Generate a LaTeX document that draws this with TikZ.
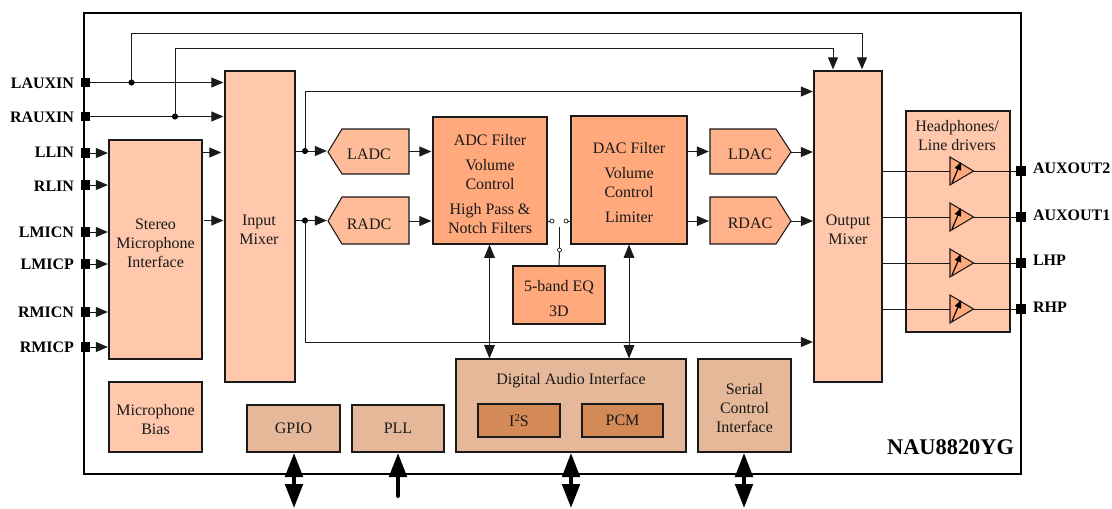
\documentclass[tikz,border=0pt]{standalone}
\usepackage{fontspec}
\setmainfont{Liberation Serif}
\usetikzlibrary{arrows.meta}
\definecolor{cLight}{HTML}{FFC8AD}
\definecolor{cMid}{HTML}{FFBC98}
\definecolor{cDark}{HTML}{FFA97D}
\definecolor{cTan}{HTML}{E5B89A}
\definecolor{cBrown}{HTML}{D48A57}
\definecolor{cLine}{HTML}{1A1A1A}
\newcommand{\bx}[7]{%
  \pgfmathsetmacro{\bw}{(#4-#2)*0.75}\pgfmathsetmacro{\bh}{(#5-#3)*0.75}%
  \node[#6,minimum width=\bw pt,minimum height=\bh pt] (#1) at ({(#2+#4)/2},{(#3+#5)/2}) {\raisebox{-0.7pt}{#7}};}
\tikzset{
  x=0.75pt,y=-0.75pt,
  every node/.style={font=\fontsize{12}{14.25}\selectfont,text=black!90,inner sep=0pt,outer sep=0pt},
  blk/.style={draw=cLine,line width=0.8pt,rectangle,align=center},
  lightb/.style={blk,fill=cLight},
  darkb/.style={blk,fill=cDark},
  tanb/.style={blk,fill=cTan},
  brownb/.style={blk,fill=cBrown},
  txt/.style={align=center,yshift=-0.6pt},
  pin/.style={rectangle,fill=black,minimum size=6.8pt},
  pinlab/.style={font=\fontsize{12}{14}\selectfont\bfseries,text=black,yshift=-0.5pt},
  wire/.style={draw=cLine,line width=0.75pt},
  arr/.style={wire,-{Triangle[length=9pt,width=7.5pt]},shorten >=0.5pt},
  biarr/.style={wire,{Triangle[length=10pt,width=8pt]}-{Triangle[length=10pt,width=8pt]}},
  dot/.style={circle,fill=black,minimum size=4.6pt},
  sw/.style={circle,draw=cLine,fill=white,line width=0.5pt,minimum size=3pt},
  bigarr/.style={draw=black,line width=3pt,{Triangle[length=18pt,width=13pt]}-{Triangle[length=18pt,width=13pt]}},
  bigone/.style={draw=black,line width=3pt,line cap=round,-{Triangle[length=18pt,width=13pt]}},
  poly/.style={draw=cLine,line width=0.8pt,fill=cMid},
  drv/.style={draw=cLine,line width=0.8pt,fill=cDark},
}
\begin{document}
\begin{tikzpicture}
\useasboundingbox (0,0) rectangle (1112,508);
\fill[white] (0,0) rectangle (1112,508);
\bx{chip}{84}{13}{1021}{474}{draw=black,line width=1.3pt}{}
\node[font=\fontsize{16.8}{18}\selectfont\bfseries,text=black,anchor=east] (partno) at (1014,447) {NAU8820YG};

% blocks
\bx{stereo}{109}{140}{202}{359}{lightb}{}
\node[txt] (stereot) at (155.5,242) {Stereo\\Microphone\\Interface};
\bx{inmix}{225}{71}{295}{382}{lightb}{}
\node[txt] (inmixt) at (259,229) {Input\\Mixer};
\bx{micbias}{109}{382}{202}{452}{lightb}{}
\node[txt] (micbiast) at (155.5,419) {Microphone\\Bias};
\bx{gpio}{247}{405}{340}{452}{tanb}{GPIO}
\bx{pll}{352}{405}{444}{452}{tanb}{PLL}
\bx{dai}{456}{359}{686}{452}{tanb}{}
\node (dait) at (571,381) {Digital Audio Interface};
\bx{iis}{478}{404}{560}{437}{brownb}{I\raisebox{3.6pt}{\fontsize{8}{9}\selectfont 2}S}
\bx{pcm}{582}{404}{663}{437}{brownb}{PCM}
\bx{serial}{698}{359}{791}{452}{tanb}{}
\node[txt] (serialt) at (744.5,407) {Serial\\Control\\Interface};
\bx{adc}{433}{117}{547}{244}{darkb}{}
\node[txt] (adct) at (490,183) {ADC Filter\\[4.5pt]Volume\\Control\\[4.5pt]High Pass \&\\Notch Filters};
\bx{dac}{571}{116}{687}{244}{darkb}{}
\node[txt] (dact) at (629,182) {DAC Filter\\[4.5pt]Volume\\Control\\[4.5pt]Limiter};
\bx{eq}{513}{266}{605}{324}{darkb}{}
\node[txt] (eqt) at (559,298) {5-band EQ\\[4.5pt]3D};
\bx{outmix}{814}{71}{882}{382}{lightb}{}
\node[txt] (outmixt) at (848,229) {Output\\Mixer};
\bx{drivers}{906}{111}{1010}{332}{lightb}{}
\node[txt] (driverst) at (957,135) {Headphones/\\Line drivers};

% converters
\draw[poly] (328,152) -- (342,129) -- (409,129) -- (409,174) -- (342,174) -- cycle;
\node (ladc) at (369,154) {LADC};
\draw[poly] (328,221) -- (342,197) -- (409,197) -- (409,244) -- (342,244) -- cycle;
\node (radc) at (369,224) {RADC};
\draw[poly,fill=cDark!90!white] (710,129) -- (776,129) -- (791,152) -- (776,174) -- (710,174) -- cycle;
\node (ldac) at (750,154) {LDAC};
\draw[poly,fill=cDark!90!white] (710,197) -- (776,197) -- (791,221) -- (776,244) -- (710,244) -- cycle;
\node (rdac) at (750,223) {RDAC};

% pins
\foreach \n/\t/\y/\ly in {lauxin/LAUXIN/82.5/83,rauxin/RAUXIN/116.5/117,llin/LLIN/153/152,rlin/RLIN/185/186,lmicn/LMICN/232/232,lmicp/LMICP/264/264,rmicn/RMICN/312/312,rmicp/RMICP/347/347}{
  \node[pin] (\n) at (85.5,\y) {};
  \node[pinlab,anchor=east] (\n t) at (74,\ly) {\t};
}
\foreach \n/\t/\y/\ly in {aout2/AUXOUT2/171/168,aout1/AUXOUT1/217/215,lhp/LHP/263/260,rhp/RHP/309/307}{
  \node[pin] (\n) at (1021,\y) {};
  \node[pinlab,anchor=west] (\n t) at (1033,\ly) {\t};
}

% left wires
\coordinate (imA) at (224,82.5);
\coordinate (imB) at (224,116.5);
\draw[arr] (lauxin) -- (imA);
\draw[arr] (rauxin) -- (imB);
\node[dot] (dotA) at (131.5,82.5) {};
\node[dot] (dotB) at (175,116.5) {};
\foreach \n/\y in {llin/153,rlin/185,lmicn/232,lmicp/264,rmicn/312,rmicp/347}{
  \coordinate (\n e) at (108.5,\y);
  \draw[arr] (\n) -- (\n e);
}
\coordinate (stA) at (202,152.5);
\coordinate (imC) at (222,152.5);
\draw[arr] (stA) -- (imC);
\coordinate (stB) at (204,220.5);
\coordinate (imD) at (224,220.5);
\draw[arr] (stB) -- (imD);

% bypass wires over the top
\coordinate (omA) at (833,70);
\coordinate (omB) at (862,70);
\draw[arr] (dotA.center) |- (862,33.5) -- (omB);
\draw[arr] (dotB.center) |- (833,48) -- (omA);

% input mixer to ADCs
\coordinate (imE) at (295,151);
\coordinate (imF) at (295,220.5);
\coordinate (ladcW) at (327.5,151);
\coordinate (radcW) at (327.5,220.5);
\draw[arr] (imE) -- (ladcW);
\draw[arr] (imF) -- (radcW);
\node[dot] (dotC) at (305,151) {};
\node[dot] (dotD) at (305,220.5) {};
\coordinate (omC) at (813.5,91.5);
\coordinate (omD) at (813.5,342);
\draw[arr] (dotC.center) |- (omC);
\draw[arr] (dotD.center) |- (omD);

% ADC / DAC
\coordinate (ladcE) at (409,151.5);
\coordinate (adcA) at (432,151.5);
\coordinate (radcE) at (409,221);
\coordinate (adcB) at (432,221);
\draw[arr] (ladcE) -- (adcA);
\draw[arr] (radcE) -- (adcB);
\coordinate (dacA) at (687,151.5);
\coordinate (ldacW) at (709.5,151.5);
\coordinate (dacB) at (687,221);
\coordinate (rdacW) at (709.5,221);
\draw[arr] (dacA) -- (ldacW);
\draw[arr] (dacB) -- (rdacW);
\coordinate (ldacE) at (791,152);
\coordinate (omE) at (813.5,152);
\coordinate (rdacE) at (791,221);
\coordinate (omF) at (813.5,221);
\draw[arr] (ldacE) -- (omE);
\draw[arr] (rdacE) -- (omF);

% switch
\node[sw] (swA) at (552,221) {};
\node[sw] (swB) at (566,221) {};
\node[sw] (swC) at (559.5,250) {};
\coordinate (swT) at (559.5,227);
\draw[wire] (eq.north) -- (swC);
\draw[wire] (swC) -- (swT);
\draw[wire] (adc.east |- swA) -- (swA);
\draw[wire] (swB) -- (dac.west |- swB);

% bus arrows
\coordinate (adcS) at (489.5,244.5);
\coordinate (daiA) at (489.5,358.5);
\coordinate (dacS) at (629,244.5);
\coordinate (daiB) at (629,358.5);
\draw[biarr] (adcS) -- (daiA);
\draw[biarr] (dacS) -- (daiB);

% output drivers
\foreach \n/\y in {aout2/171,aout1/217,lhp/263,rhp/309}{
  \coordinate (om\n) at (882,\y);
  \coordinate (tri\n) at (950,\y);
  \draw[wire] (om\n) -- (tri\n);
  \coordinate (tro\n) at (973,\y);
  \draw[wire] (tro\n) -- (\n);
  \draw[drv] (950,\y-14) -- (973.5,\y) -- (950,\y+14) -- cycle;
  \coordinate (aa\n) at (952,\y+12);
  \coordinate (ab\n) at (961,\y-9);
  \draw[line width=0.9pt,black,-{Triangle[length=6pt,width=5pt]}] (aa\n) -- (ab\n);
}

% external thick arrows
\coordinate (gpioN) at (294,453);
\coordinate (gpioS) at (294,508);
\coordinate (pllN) at (398,453);
\coordinate (pllS) at (398,496);
\coordinate (daiN) at (571,453);
\coordinate (daiS) at (571,508);
\coordinate (serN) at (744,453);
\coordinate (serS) at (744,508);
\draw[bigarr] (gpioN) -- (gpioS);
\draw[bigarr] (daiN) -- (daiS);
\draw[bigarr] (serN) -- (serS);
\draw[bigone] (pllS) -- (pllN);
\end{tikzpicture}
\end{document}
